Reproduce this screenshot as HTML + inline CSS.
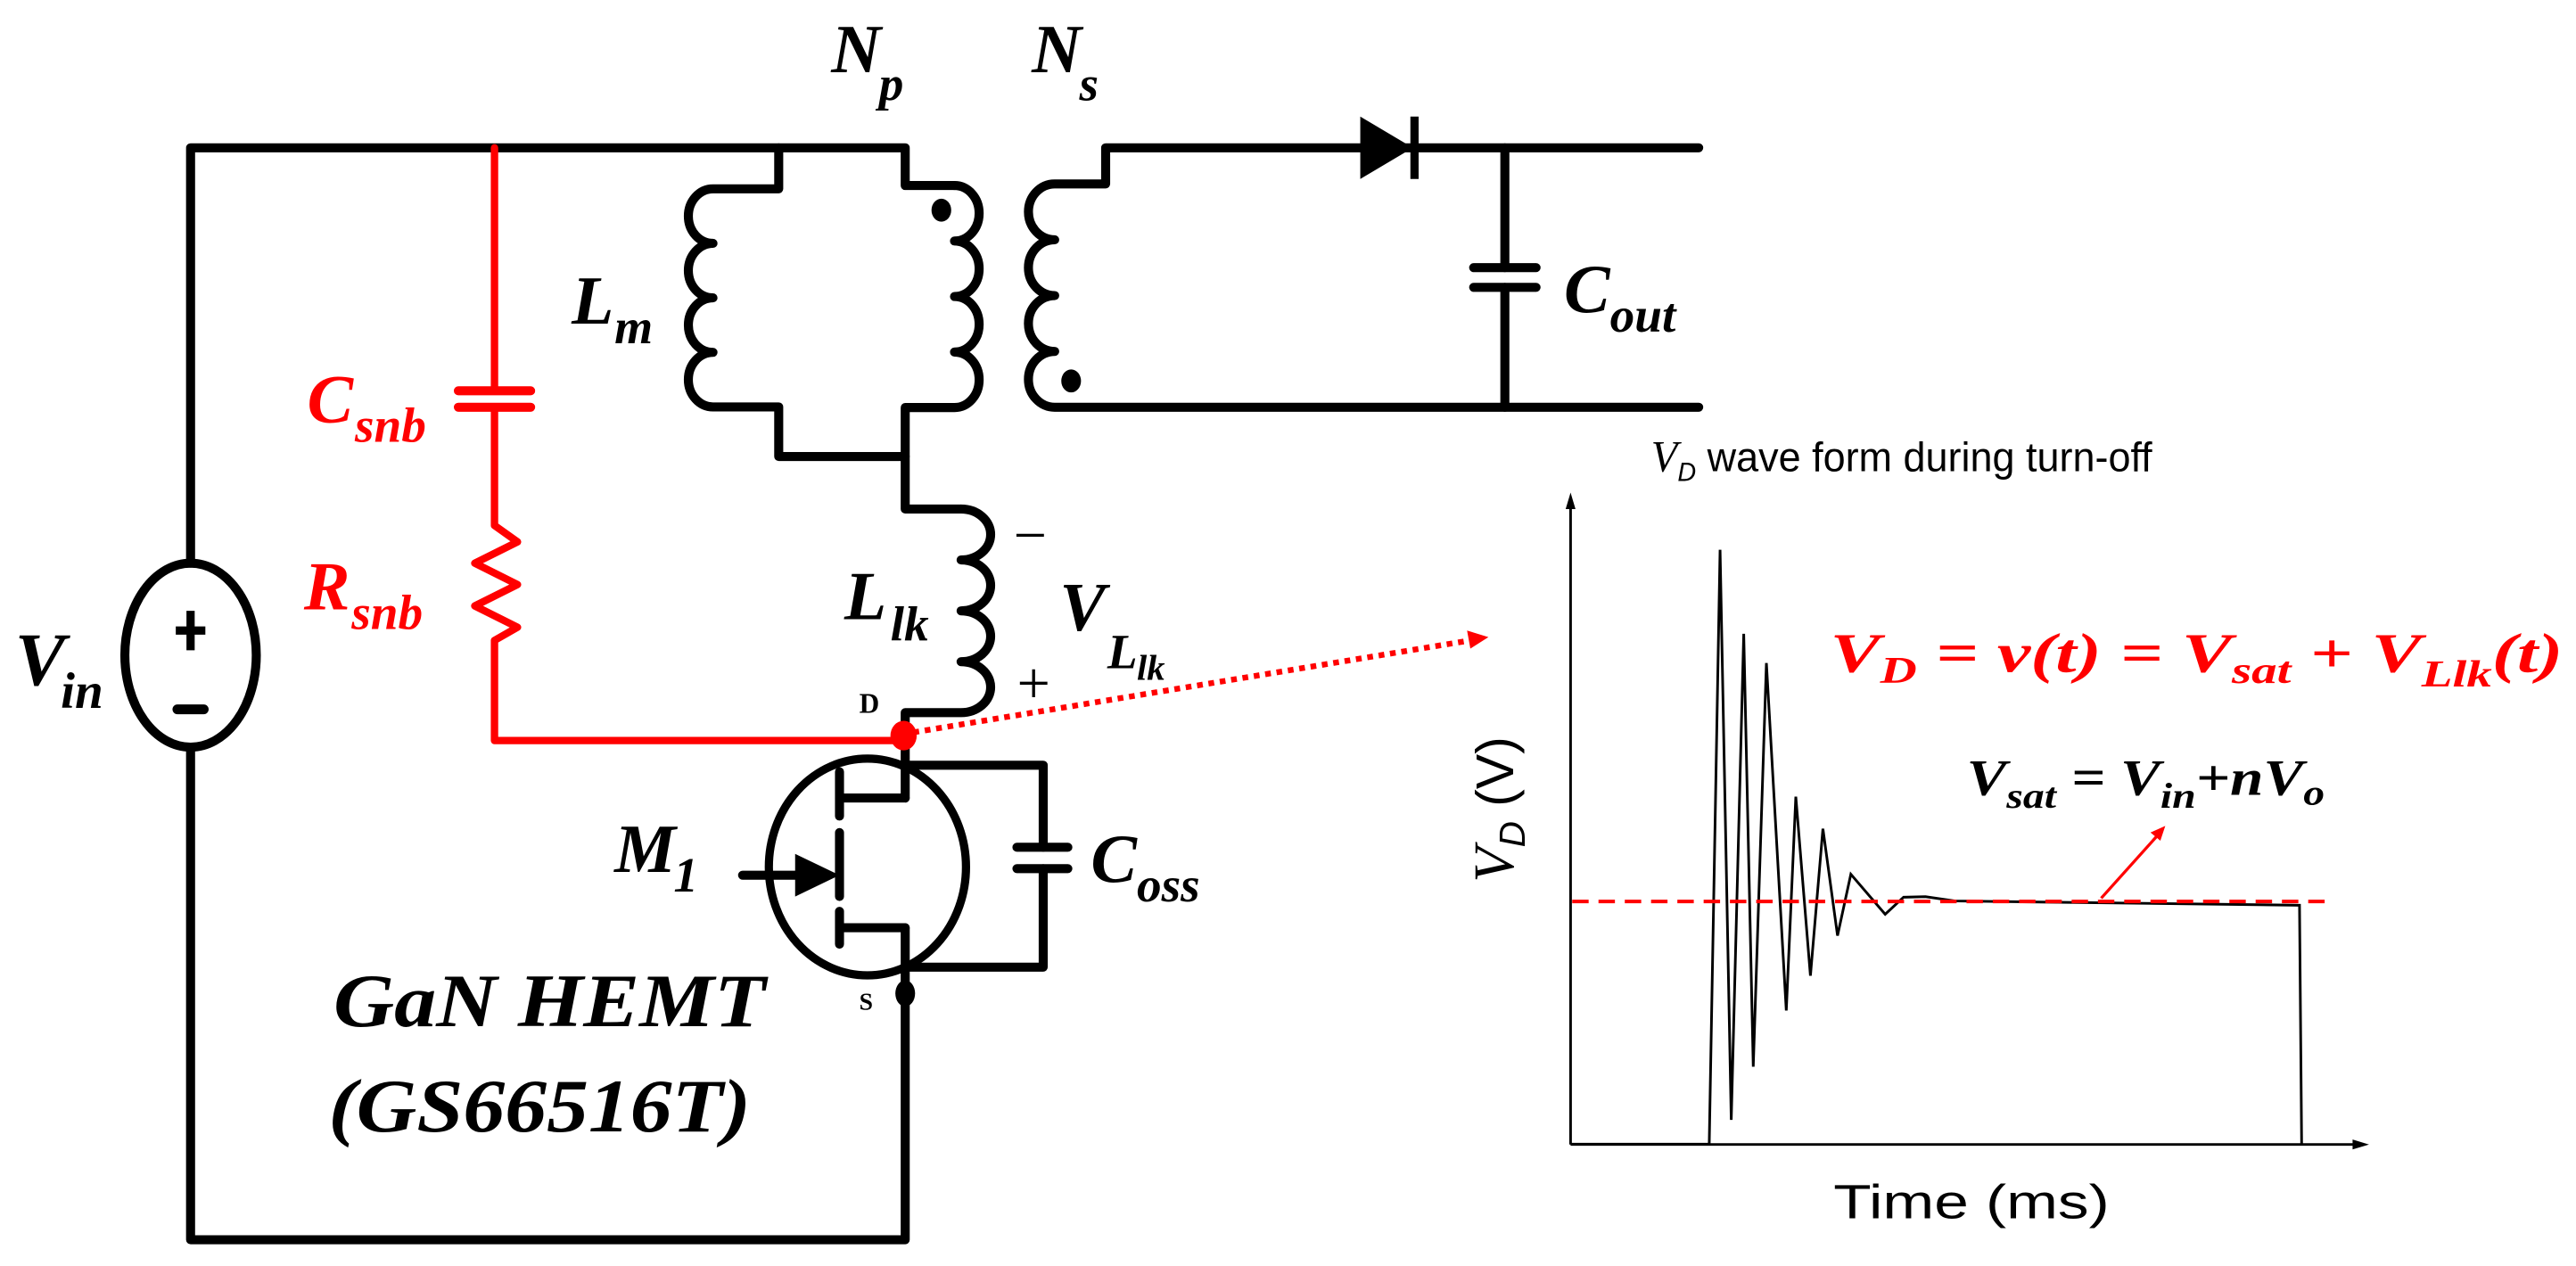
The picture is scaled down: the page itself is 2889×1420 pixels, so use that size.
<!DOCTYPE html>
<html><head><meta charset="utf-8"><style>
html,body{margin:0;padding:0;background:#fff;}
svg{display:block;}
.l{font-family:"Liberation Serif",serif;font-style:italic;font-weight:bold;}
.s{font-family:"Liberation Sans",sans-serif;}
</style></head><body>
<svg width="2889" height="1420" viewBox="0 0 1568 771" preserveAspectRatio="none" xmlns="http://www.w3.org/2000/svg">
<rect width="1568" height="771" fill="#fff"/>
<g fill="none" stroke="#000" stroke-width="5.5" stroke-linejoin="round" stroke-linecap="round">
<path d="M116,343 V90 H551 V113 H581"/>
<path d="M581,113 a15,16.9 0 0 1 0,33.8 a15,16.9 0 0 1 0,33.8 a15,16.9 0 0 1 0,33.8 a15,16.9 0 0 1 0,33.8 H551 V310 H585"/>
<path d="M585,310 a18,15.5 0 0 1 0,31 a18,15.5 0 0 1 0,31 a18,15.5 0 0 1 0,31 a18,15.5 0 0 1 0,31 H551 V447"/>
<path d="M474,90 V115 H434 a15,16.6 0 0 0 0,33.2 a15,16.6 0 0 0 0,33.2 a15,16.6 0 0 0 0,33.2 a15,16.6 0 0 0 0,33.2 H474 V278 H551"/>
<path d="M1034,90 H673 V112 H642 a16,17 0 0 0 0,34 a16,17 0 0 0 0,34 a16,17 0 0 0 0,34 a16,17 0 0 0 0,34 H1034"/>
<path d="M916,90 V163 M916,175 V248"/>
<path d="M897,163 H935 M897,175 H935"/>
<ellipse cx="116" cy="399" rx="40" ry="56"/>
<path d="M116,455 V755 H551 V565"/>
<path d="M551,447 V486"/>
<ellipse cx="528" cy="528" rx="60" ry="66" stroke-width="5"/>
<path d="M511,486 H551 M511,565 H551"/>
<path d="M511,470 V497 M511,507 V546 M511,555 V575"/>
<path d="M452,533 H486"/>
<path d="M551,466 H635 V516 M635,529 V589 H551"/>
<path d="M619,516 H650 M619,529 H650"/>
</g>
<polygon points="484,520 484,546 511,533" fill="#000"/>
<polygon points="828,71 828,109 860,90" fill="#000"/>
<path d="M861,71 V109" stroke="#000" stroke-width="5"/>
<ellipse cx="573" cy="128" rx="6" ry="7" fill="#000"/>
<ellipse cx="652" cy="232" rx="6" ry="7" fill="#000"/>
<ellipse cx="551" cy="605" rx="6" ry="8" fill="#000"/>
<path d="M116,372 V396 M107,384 H125" stroke="#000" stroke-width="5"/>
<path d="M108,432 H124" stroke="#000" stroke-width="6" stroke-linecap="round"/>
<g fill="none" stroke="#ff0000" stroke-linejoin="round" stroke-linecap="round">
<path d="M301,90 V238 M301,248 V320 L315,330 L289,343 L315,356 L289,369 L315,382 L301,390 V451 H551" stroke-width="4.5"/>
<path d="M279,238 H323 M279,248 H323" stroke-width="5.5"/>
<path d="M556,446 L895,390" stroke-width="3.5" stroke-dasharray="3.5,3.5" stroke-linecap="butt"/>
</g>
<polygon points="906,388 893,384 895,395" fill="#ff0000"/>
<ellipse cx="550" cy="448" rx="8" ry="9" fill="#ff0000"/>
<g class="l" fill="#000">
<text x="506" y="44" font-size="42">N</text><text x="535" y="61" font-size="30">p</text>
<text x="628" y="44" font-size="42">N</text><text x="657" y="61" font-size="30">s</text>
<text x="348" y="197" font-size="42">L</text><text x="374" y="209" font-size="30">m</text>
<text x="514" y="377" font-size="42">L</text><text x="542" y="390" font-size="30">lk</text>
<text x="645" y="384" font-size="42">V</text><text x="674" y="407" font-size="30">L</text><text x="692" y="414" font-size="22">lk</text>
<text x="952" y="190" font-size="42">C</text><text x="980" y="202" font-size="30">out</text>
<text x="664" y="537" font-size="42">C</text><text x="692" y="549" font-size="30">oss</text>
<text x="374" y="531" font-size="42">M</text><text x="410" y="543" font-size="30">1</text>
<text x="9" y="417" font-size="46">V</text><text x="37" y="431" font-size="31">in</text>
<text x="203" y="625" font-size="46" textLength="263" lengthAdjust="spacingAndGlyphs">GaN HEMT</text>
<text x="200" y="689" font-size="46" textLength="257" lengthAdjust="spacingAndGlyphs">(GS66516T)</text>
</g>
<g class="l" fill="#ff0000">
<text x="187" y="257" font-size="42">C</text><text x="216" y="269" font-size="30">snb</text>
<text x="185" y="371" font-size="42">R</text><text x="214" y="383" font-size="30">snb</text>
</g>
<g font-family="Liberation Serif,serif" font-weight="bold" font-size="17" fill="#000">
<text x="523" y="434">D</text><text x="523" y="615" font-size="15">S</text>
</g>
<g font-family="Liberation Serif,serif" font-size="36" fill="#000">
<text x="617" y="338">−</text><text x="619" y="428">+</text>
</g>
<g fill="none" stroke="#000" stroke-width="1.6">
<path d="M956,697 V306"/>
<path d="M956,697 H1436"/>
<polyline points="956.5,696.8 1040.4,696.8 1047,334.8 1053.8,682 1061.4,386 1067.2,649.6 1075.2,403.8 1087.3,615.4 1093.1,485.2 1102,594.2 1109.6,504.7 1118.5,569.8 1126.6,532.4 1147.5,556.8 1158.7,546.4 1172,546.1 1190,548.7 1399.7,551.3 1401,696.8"/>
</g>
<polygon points="956,300 953,310 959,310" fill="#000"/>
<polygon points="1442,697 1432,694 1432,700" fill="#000"/>
<path d="M957,549 H1416" stroke="#ff0000" stroke-width="2.2" stroke-dasharray="10,6"/>
<path d="M1279,547 L1314,508" stroke="#ff0000" stroke-width="1.8"/>
<polygon points="1318,503 1309,507 1315,512" fill="#ff0000"/>
<text class="s" x="1005" y="287" font-size="25" fill="#000" textLength="305" lengthAdjust="spacingAndGlyphs"><tspan font-style="italic" font-family="Liberation Serif,serif" font-size="27">V</tspan><tspan font-style="italic" font-size="16" dy="6">D</tspan><tspan dy="-6"> wave form during turn-off</tspan></text>
<text class="l" x="1114" y="409" font-size="34" fill="#ff0000" textLength="446" lengthAdjust="spacingAndGlyphs">V<tspan font-size="23" dy="7">D</tspan><tspan dy="-7"> = v(t) = V</tspan><tspan font-size="23" dy="7">sat</tspan><tspan dy="-7"> + V</tspan><tspan font-size="23" dy="9">Llk</tspan><tspan dy="-9">(t)</tspan></text>
<text class="l" x="1197" y="484" font-size="31" fill="#000" textLength="218" lengthAdjust="spacingAndGlyphs">V<tspan font-size="22" dy="8">sat</tspan><tspan dy="-8"> = V</tspan><tspan font-size="22" dy="8">in</tspan><tspan dy="-8">+nV</tspan><tspan font-size="22" dy="6">o</tspan></text>
<text class="s" transform="translate(921,493) rotate(-90)" text-anchor="middle" font-size="32" fill="#000"><tspan font-style="italic" font-family="Liberation Serif,serif" font-size="35">V</tspan><tspan font-style="italic" font-size="22" dy="7">D</tspan><tspan dy="-7"> (V)</tspan></text>
<text class="s" x="1116" y="742" font-size="29" fill="#000" textLength="168" lengthAdjust="spacingAndGlyphs">Time (ms)</text>
</svg>
</body></html>
